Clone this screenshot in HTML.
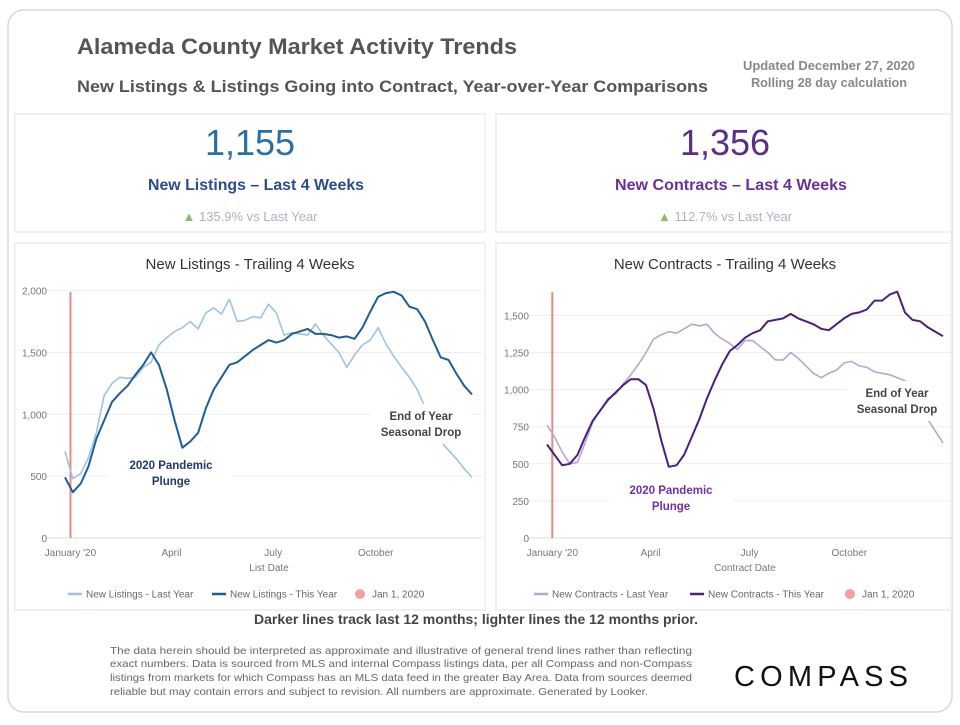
<!DOCTYPE html>
<html><head><meta charset="utf-8"><style>
body{margin:0;background:#fff;width:960px;height:720px;overflow:hidden;font-family:"Liberation Sans",sans-serif}
svg text{font-family:"Liberation Sans",sans-serif}
</style></head><body>
<svg id="s" width="960" height="720" viewBox="0 0 960 720" xmlns="http://www.w3.org/2000/svg">
<rect x="8" y="10" width="944" height="702" rx="16" fill="#fff" stroke="#d8d8d8" stroke-width="1.5"/>
<text x="77" y="54" font-size="22" font-weight="bold" fill="#555" textLength="440" lengthAdjust="spacingAndGlyphs">Alameda County Market Activity Trends</text>
<text x="77" y="92" font-size="17" font-weight="bold" fill="#555" textLength="631" lengthAdjust="spacingAndGlyphs">New Listings &amp; Listings Going into Contract, Year-over-Year Comparisons</text>
<text x="829" y="70" font-size="12.5" font-weight="bold" fill="#888" text-anchor="middle" textLength="172" lengthAdjust="spacingAndGlyphs">Updated December 27, 2020</text>
<text x="829" y="87" font-size="12.5" font-weight="bold" fill="#888" text-anchor="middle" textLength="156" lengthAdjust="spacingAndGlyphs">Rolling 28 day calculation</text>
<g>
<rect x="15" y="114" width="470" height="118" fill="#fff" stroke="#f0f0f0" stroke-width="2"/>
<rect x="496" y="114" width="455" height="118" fill="#fff" stroke="#f0f0f0" stroke-width="2"/>
<rect x="15" y="243" width="470" height="367" fill="#fff" stroke="#f0f0f0" stroke-width="2"/>
<rect x="496" y="243" width="455" height="367" fill="#fff" stroke="#f0f0f0" stroke-width="2"/>
</g>
<text x="250" y="155" font-size="36" fill="#2c6ea6" text-anchor="middle">1,155</text>
<text x="256" y="190" font-size="16" font-weight="bold" fill="#2b4d8c" text-anchor="middle" textLength="216" lengthAdjust="spacingAndGlyphs">New Listings – Last 4 Weeks</text>
<text x="250" y="221" font-size="13" fill="#aab4c0" text-anchor="middle"><tspan fill="#8dbb6a">▲</tspan> 135.9% vs Last Year</text>
<text x="725" y="155" font-size="36" fill="#5c2d86" text-anchor="middle">1,356</text>
<text x="731" y="190" font-size="16" font-weight="bold" fill="#6a2f99" text-anchor="middle" textLength="232" lengthAdjust="spacingAndGlyphs">New Contracts – Last 4 Weeks</text>
<text x="725" y="221" font-size="13" fill="#aab4c0" text-anchor="middle"><tspan fill="#8dbb6a">▲</tspan> 112.7% vs Last Year</text>
<text x="250" y="269" font-size="15" fill="#333" text-anchor="middle">New Listings - Trailing 4 Weeks</text>
<text x="725" y="269" font-size="15" fill="#333" text-anchor="middle">New Contracts - Trailing 4 Weeks</text>
<g id="c1"></g><g id="c2"></g>
<text x="476" y="624" font-size="14" font-weight="bold" fill="#444" text-anchor="middle" textLength="444" lengthAdjust="spacingAndGlyphs">Darker lines track last 12 months; lighter lines the 12 months prior.</text>
<g font-size="10.5" fill="#666">
<text x="110" y="654" textLength="582" lengthAdjust="spacingAndGlyphs">The data herein should be interpreted as approximate and illustrative of general trend lines rather than reflecting</text>
<text x="110" y="667" textLength="582" lengthAdjust="spacingAndGlyphs">exact numbers. Data is sourced from MLS and internal Compass listings data, per all Compass and non-Compass</text>
<text x="110" y="681" textLength="582" lengthAdjust="spacingAndGlyphs">listings from markets for which Compass has an MLS data feed in the greater Bay Area. Data from sources deemed</text>
<text x="110" y="695" textLength="538" lengthAdjust="spacingAndGlyphs">reliable but may contain errors and subject to revision. All numbers are approximate. Generated by Looker.</text>
</g>
<text x="734" y="686" font-size="29" fill="#111" textLength="174" lengthAdjust="spacing">COMPASS</text>
</svg>
<script>
const weeks = Array.from({length:53},(_,i)=>i);
const listingsLastYear=[700,480,520,650,850,1150,1250,1300,1290,1300,1380,1420,1560,1620,1670,1700,1750,1690,1820,1860,1810,1930,1750,1760,1790,1780,1890,1820,1640,1660,1650,1640,1730,1640,1570,1500,1380,1480,1560,1600,1700,1570,1470,1380,1300,1200,1060,950,780,710,640,560,490];
const listingsThisYear=[490,370,440,580,800,950,1100,1170,1230,1320,1400,1500,1400,1200,950,730,780,850,1050,1200,1300,1400,1420,1470,1520,1560,1600,1580,1600,1650,1670,1690,1650,1650,1640,1620,1630,1610,1700,1830,1950,1980,1990,1960,1870,1850,1750,1600,1460,1440,1330,1230,1160];
const contractsLastYear=[760,680,580,500,510,640,780,860,940,970,1040,1100,1170,1250,1340,1370,1390,1380,1410,1440,1430,1440,1380,1340,1310,1270,1330,1330,1290,1250,1200,1200,1250,1210,1160,1110,1080,1110,1130,1180,1190,1160,1150,1120,1110,1100,1080,1060,1000,900,800,720,640];
const contractsThisYear=[630,560,490,500,560,680,790,860,930,980,1030,1070,1070,1030,870,660,480,490,560,680,800,940,1060,1170,1260,1300,1350,1380,1400,1460,1470,1480,1510,1480,1460,1440,1410,1400,1440,1480,1510,1520,1540,1600,1600,1640,1660,1520,1470,1460,1420,1390,1360];
const listingsTicks=[0,500,1000,1500,2000];
const listingsTickLabels=["0","500","1,000","1,500","2,000"];
const contractsTicks=[0,250,500,750,1000,1250,1500];
const contractsTickLabels=["0","250","500","750","1,000","1,250","1,500"];
const monthLabels=["January '20","April","July","October"];
const monthWeeks=[0.7,13.6,26.6,39.7];
const NS="http://www.w3.org/2000/svg";
function mk(p,tag,a){const e=document.createElementNS(NS,tag);for(const k in a)e.setAttribute(k,a[k]);p.appendChild(e);return e;}
function chart(g,cfg){
  const x=w=>cfg.x0+w*(cfg.x1-cfg.x0)/52;
  const y=v=>cfg.y0-v*cfg.k;
  cfg.ticks.forEach((t,i)=>{
    const l=mk(g,'line',{x1:cfg.x0-20,x2:cfg.x1+10,y1:y(t),y2:y(t),stroke:i==0?'#ddd':'#eee','stroke-width':1});
    
    
    const tx=mk(g,'text',{x:cfg.lx,y:y(t)+4,'font-size':10,fill:'#777','text-anchor':'end'});
    tx.textContent=cfg.tickLabels[i];
    
    
  });
  monthLabels.forEach((m,i)=>{
    const tx=mk(g,'text',{x:x(monthWeeks[i]),y:cfg.y0+18,'font-size':10,fill:'#777','text-anchor':'middle'});
    tx.textContent=m;
    
    
  });
  const at=mk(g,'text',{x:cfg.axisX,y:cfg.y0+33,'font-size':10,fill:'#777','text-anchor':'middle'});
  at.textContent=cfg.axisTitle;
  
  
  const jl=mk(g,'line',{x1:x(0.7),x2:x(0.7),y1:cfg.y0,y2:cfg.jTop,stroke:'#e88a86','stroke-width':2});
  
  
  [[cfg.last,cfg.light,1.6,'last-year-line'],[cfg.cur,cfg.dark,2,'this-year-line']].forEach(s=>{
    const d=s[0].map((v,i)=>(i?'L':'M')+x(weeks[i]).toFixed(1)+','+y(v).toFixed(1)).join('');
    const p=mk(g,'path',{d:d,fill:'none',stroke:s[1],'stroke-width':s[2],'stroke-linejoin':'round'});
    
    
  });
  const a1=cfg.ann1;
  mk(g,'rect',{x:a1.x-62,y:a1.y-16,width:124,height:40,fill:'#fff'});
  [["2020 Pandemic",0],["Plunge",16]].forEach(t=>{
    const e=mk(g,'text',{x:a1.x,y:a1.y+t[1],'font-size':11.5,'font-weight':'bold',fill:cfg.annColor,'text-anchor':'middle'});
    e.textContent=t[0];
    
    
  });
  const a2=cfg.ann2;
  mk(g,'rect',{x:a2.x-50,y:a2.y-16,width:100,height:40,fill:'#fff'});
  [["End of Year",0],["Seasonal  Drop",16]].forEach(t=>{
    const e=mk(g,'text',{x:a2.x,y:a2.y+t[1],'font-size':11.5,'font-weight':'bold',fill:'#444','text-anchor':'middle'});
    e.textContent=t[0];
    
    
  });
  const L=cfg.leg, ly=594;
  const items=[[cfg.light,cfg.names[0],L[0]],[cfg.dark,cfg.names[1],L[1]]];
  items.forEach(it=>{
    mk(g,'line',{x1:it[2],x2:it[2]+14,y1:ly,y2:ly,stroke:it[0],'stroke-width':2.5});
    const e=mk(g,'text',{x:it[2]+18,y:ly+3.5,'font-size':10,fill:'#666'});
    e.textContent=it[1];
    
    
  });
  mk(g,'circle',{cx:L[2],cy:ly,r:5,fill:'#f2a09c'});
  const e=mk(g,'text',{x:L[2]+12,y:ly+3.5,'font-size':10,fill:'#666'});
  e.textContent='Jan 1, 2020';
  
  
}
chart(document.getElementById('c1'),{x0:65,x1:472,y0:538,k:0.1237,lx:47,ticks:listingsTicks,tickLabels:listingsTickLabels,
  last:listingsLastYear,cur:listingsThisYear,light:'#9cc5dc',dark:'#1f5e95',jTop:292,axisX:269,axisTitle:'List Date',
  ann1:{x:171,y:469},ann2:{x:421,y:420},annColor:'#1f3a6a',names:['New Listings - Last Year','New Listings - This Year'],leg:[68,212,360]});
chart(document.getElementById('c2'),{x0:547,x1:943,y0:538,k:0.1484,lx:529,ticks:contractsTicks,tickLabels:contractsTickLabels,
  last:contractsLastYear,cur:contractsThisYear,light:'#b7a6cf',dark:'#4a2079',jTop:292,axisX:745,axisTitle:'Contract Date',
  ann1:{x:671,y:494},ann2:{x:897,y:397},annColor:'#6f2fa8',names:['New Contracts - Last Year','New Contracts - This Year'],leg:[534,690,850]});
</script>
</body></html>
